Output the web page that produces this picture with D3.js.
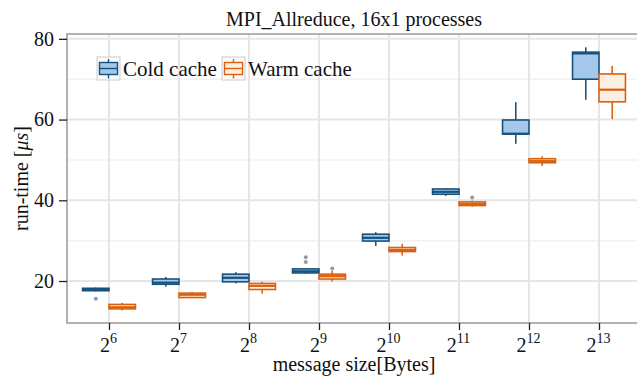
<!DOCTYPE html>
<html>
<head>
  <meta http-equiv="Content-Type" content="text/html;charset=utf-8" />
  <style type="text/css">
    body { margin: 0; background: #fff; }
    text, tspan { font-family: "Liberation Serif", "Times New Roman", serif; fill: #111; }
  </style>
</head>
<body>
  <div id="svgContainer"></div>
  <script src="https://d3js.org/d3.v7.min.js"></script>
  <script type="text/javascript">
    // data: [whisker low, q1, median, q3, whisker high]
    var exponents = [6, 7, 8, 9, 10, 11, 12, 13];
    var coldStats = [
      [17.4, 17.6, 17.9, 18.2, 18.4],
      [18.6, 19.2, 19.6, 20.5, 21.0],
      [19.4, 19.8, 20.8, 21.7, 22.2],
      [21.8, 22.0, 22.4, 23.0, 23.2],
      [28.7, 29.9, 30.7, 31.6, 32.1],
      [41.1, 41.5, 42.1, 42.8, 43.0],
      [54.0, 56.4, 56.5, 59.9, 64.3],
      [64.9, 70.0, 76.4, 76.7, 77.9]
    ];
    var warmStats = [
      [12.7, 13.1, 13.5, 14.2, 14.6],
      [15.8, 15.9, 16.6, 17.0, 17.3],
      [16.9, 17.9, 18.8, 19.4, 19.8],
      [19.9, 20.5, 21.2, 21.7, 22.5],
      [26.3, 27.3, 27.7, 28.3, 29.2],
      [38.4, 38.7, 39.1, 39.6, 39.9],
      [48.5, 49.3, 49.7, 50.3, 50.9],
      [60.1, 64.4, 67.4, 71.3, 73.3]
    ];
    var coldOutliers = [[6, 15.6], [9, 24.7], [9, 25.9]];
    var warmOutliers = [[9, 23.1], [11, 40.7]];
    var yMajor = [20, 40, 60, 80];
    var yMinor = [30, 50, 70];
    var seriesNames = ["Cold cache", "Warm cache"];

    var w = 637, h = 377;
    var pLeft = 67, pTop = 34, pBottom = 323, pRight = 641;
    var serif = "'Liberation Serif', 'Times New Roman', serif";

    var svg = d3.select("#svgContainer")
      .append("svg")
      .attr("width", w)
      .attr("height", h);

    var xScale = d3.scaleLinear().domain([5.4, 13.6]).range([pLeft, pRight]);
    var yScale = d3.scaleLinear().domain([9.6, 81.2]).range([pBottom, pTop]);

    // grid
    svg.selectAll(".ygridminor").data(yMinor).enter().append("line")
      .attr("x1", pLeft).attr("x2", pRight)
      .attr("y1", d => yScale(d)).attr("y2", d => yScale(d))
      .attr("stroke", "#f2f2f2").attr("stroke-width", 1.5);
    svg.selectAll(".ygrid").data(yMajor).enter().append("line")
      .attr("x1", pLeft).attr("x2", pRight)
      .attr("y1", d => yScale(d)).attr("y2", d => yScale(d))
      .attr("stroke", "#e6e6e6").attr("stroke-width", 2);
    svg.selectAll(".xgrid").data(exponents).enter().append("line")
      .attr("x1", d => xScale(d)).attr("x2", d => xScale(d))
      .attr("y1", pTop).attr("y2", pBottom)
      .attr("stroke", "#e6e6e6").attr("stroke-width", 2);

    // frame
    svg.append("path")
      .attr("d", "M" + pRight + "," + pTop + "H" + pLeft + "V" + pBottom + "H" + pRight)
      .attr("fill", "none").attr("stroke", "#999").attr("stroke-width", 1.5);

    // axes
    var yAxis = d3.axisLeft(yScale).tickValues(yMajor).tickSize(8).tickPadding(5);
    var gy = svg.append("g").attr("transform", "translate(" + pLeft + ",0)").call(yAxis);
    gy.select(".domain").remove();
    gy.selectAll(".tick line").attr("stroke", "#222").attr("stroke-width", 1.3);
    gy.selectAll(".tick text").style("font-size", "20px").style("font-family", serif).attr("fill", "#111");

    var xAxis = d3.axisBottom(xScale).tickValues(exponents).tickSize(7).tickFormat("");
    var gx = svg.append("g").attr("transform", "translate(0," + pBottom + ")").call(xAxis);
    gx.select(".domain").remove();
    gx.selectAll(".tick line").attr("stroke", "#222").attr("stroke-width", 1.3);
    var lbl = gx.selectAll(".tick").append("text")
      .attr("y", 29).attr("text-anchor", "middle").attr("dx", -1).attr("fill", "#111")
      .style("font-family", serif);
    lbl.append("tspan").text("2").style("font-size", "20px");
    lbl.append("tspan").text(d => d).attr("dy", -9).style("font-size", "14px");

    // boxes
    var colors = [
      { stroke: "#17527e", fill: "#a4c8ea", dot: "#999" },
      { stroke: "#d9610f", fill: "#fdefe2", dot: "#999" }
    ];
    var bw = xScale(5.4 + 0.378) - xScale(5.4);

    function drawBoxes(stats, offset, c) {
      var g = svg.append("g");
      var b = g.selectAll("g").data(stats).enter().append("g");
      var x0 = (d, i) => xScale(exponents[i]) + offset * bw;
      b.append("line")
        .attr("x1", (d, i) => x0(d, i) + bw / 2).attr("x2", (d, i) => x0(d, i) + bw / 2)
        .attr("y1", d => yScale(d[0])).attr("y2", d => yScale(d[4]))
        .attr("stroke", c.stroke).attr("stroke-width", 1.6);
      b.append("rect")
        .attr("x", (d, i) => x0(d, i)).attr("width", bw)
        .attr("y", d => yScale(d[3])).attr("height", d => yScale(d[1]) - yScale(d[3]))
        .attr("fill", c.fill).attr("stroke", c.stroke).attr("stroke-width", 1.6);
      b.append("line")
        .attr("x1", (d, i) => x0(d, i)).attr("x2", (d, i) => x0(d, i) + bw)
        .attr("y1", d => yScale(d[2])).attr("y2", d => yScale(d[2]))
        .attr("stroke", c.stroke).attr("stroke-width", 2.2);
    }
    function drawOutliers(pts, offset, c) {
      svg.append("g").selectAll("circle").data(pts).enter().append("circle")
        .attr("cx", d => xScale(d[0]) + offset * bw + bw / 2)
        .attr("cy", d => yScale(d[1]))
        .attr("r", 2).attr("fill", c.dot);
    }
    drawBoxes(coldStats, -1, colors[0]);
    drawBoxes(warmStats, 0, colors[1]);
    drawOutliers(coldOutliers, -1, colors[0]);
    drawOutliers(warmOutliers, 0, colors[1]);

    // legend
    var legX = [97, 222];
    var leg = svg.append("g").selectAll("g").data(seriesNames).enter().append("g")
      .attr("transform", (d, i) => "translate(" + legX[i] + ",57)");
    leg.append("rect").attr("width", 23).attr("height", 23)
      .attr("fill", "#fafafa").attr("stroke", "#ccc").attr("stroke-width", 1);
    leg.append("line").attr("x1", 11.5).attr("x2", 11.5).attr("y1", 2).attr("y2", 21.5)
      .attr("stroke", (d, i) => colors[i].stroke).attr("stroke-width", 1.4);
    leg.append("rect").attr("x", 2.5).attr("y", 5.5).attr("width", 18).attr("height", 12)
      .attr("fill", (d, i) => colors[i].fill).attr("stroke", (d, i) => colors[i].stroke).attr("stroke-width", 1.4);
    leg.append("line").attr("x1", 2.5).attr("x2", 20.5).attr("y1", 11.5).attr("y2", 11.5)
      .attr("stroke", (d, i) => colors[i].stroke).attr("stroke-width", 1.4);
    leg.append("text").attr("x", 26).attr("y", 19).text(d => d)
      .style("font-size", "21px").style("font-family", serif);

    // titles
    svg.append("text").attr("x", (pLeft + pRight) / 2).attr("y", 26)
      .attr("text-anchor", "middle").style("font-size", "20px").style("font-family", serif)
      .text("MPI_Allreduce, 16x1 processes");
    svg.append("text").attr("x", (pLeft + pRight) / 2).attr("y", 371)
      .attr("text-anchor", "middle").style("font-size", "20px").style("font-family", serif)
      .text("message size[Bytes]");
    var yl = svg.append("text").attr("transform", "translate(28," + ((pTop + pBottom) / 2) + ") rotate(-90)")
      .attr("text-anchor", "middle").style("font-size", "20px").style("font-family", serif);
    yl.append("tspan").text("run-time [");
    yl.append("tspan").text("μs").style("font-style", "italic");
    yl.append("tspan").text("]");
  </script>
</body>
</html>
